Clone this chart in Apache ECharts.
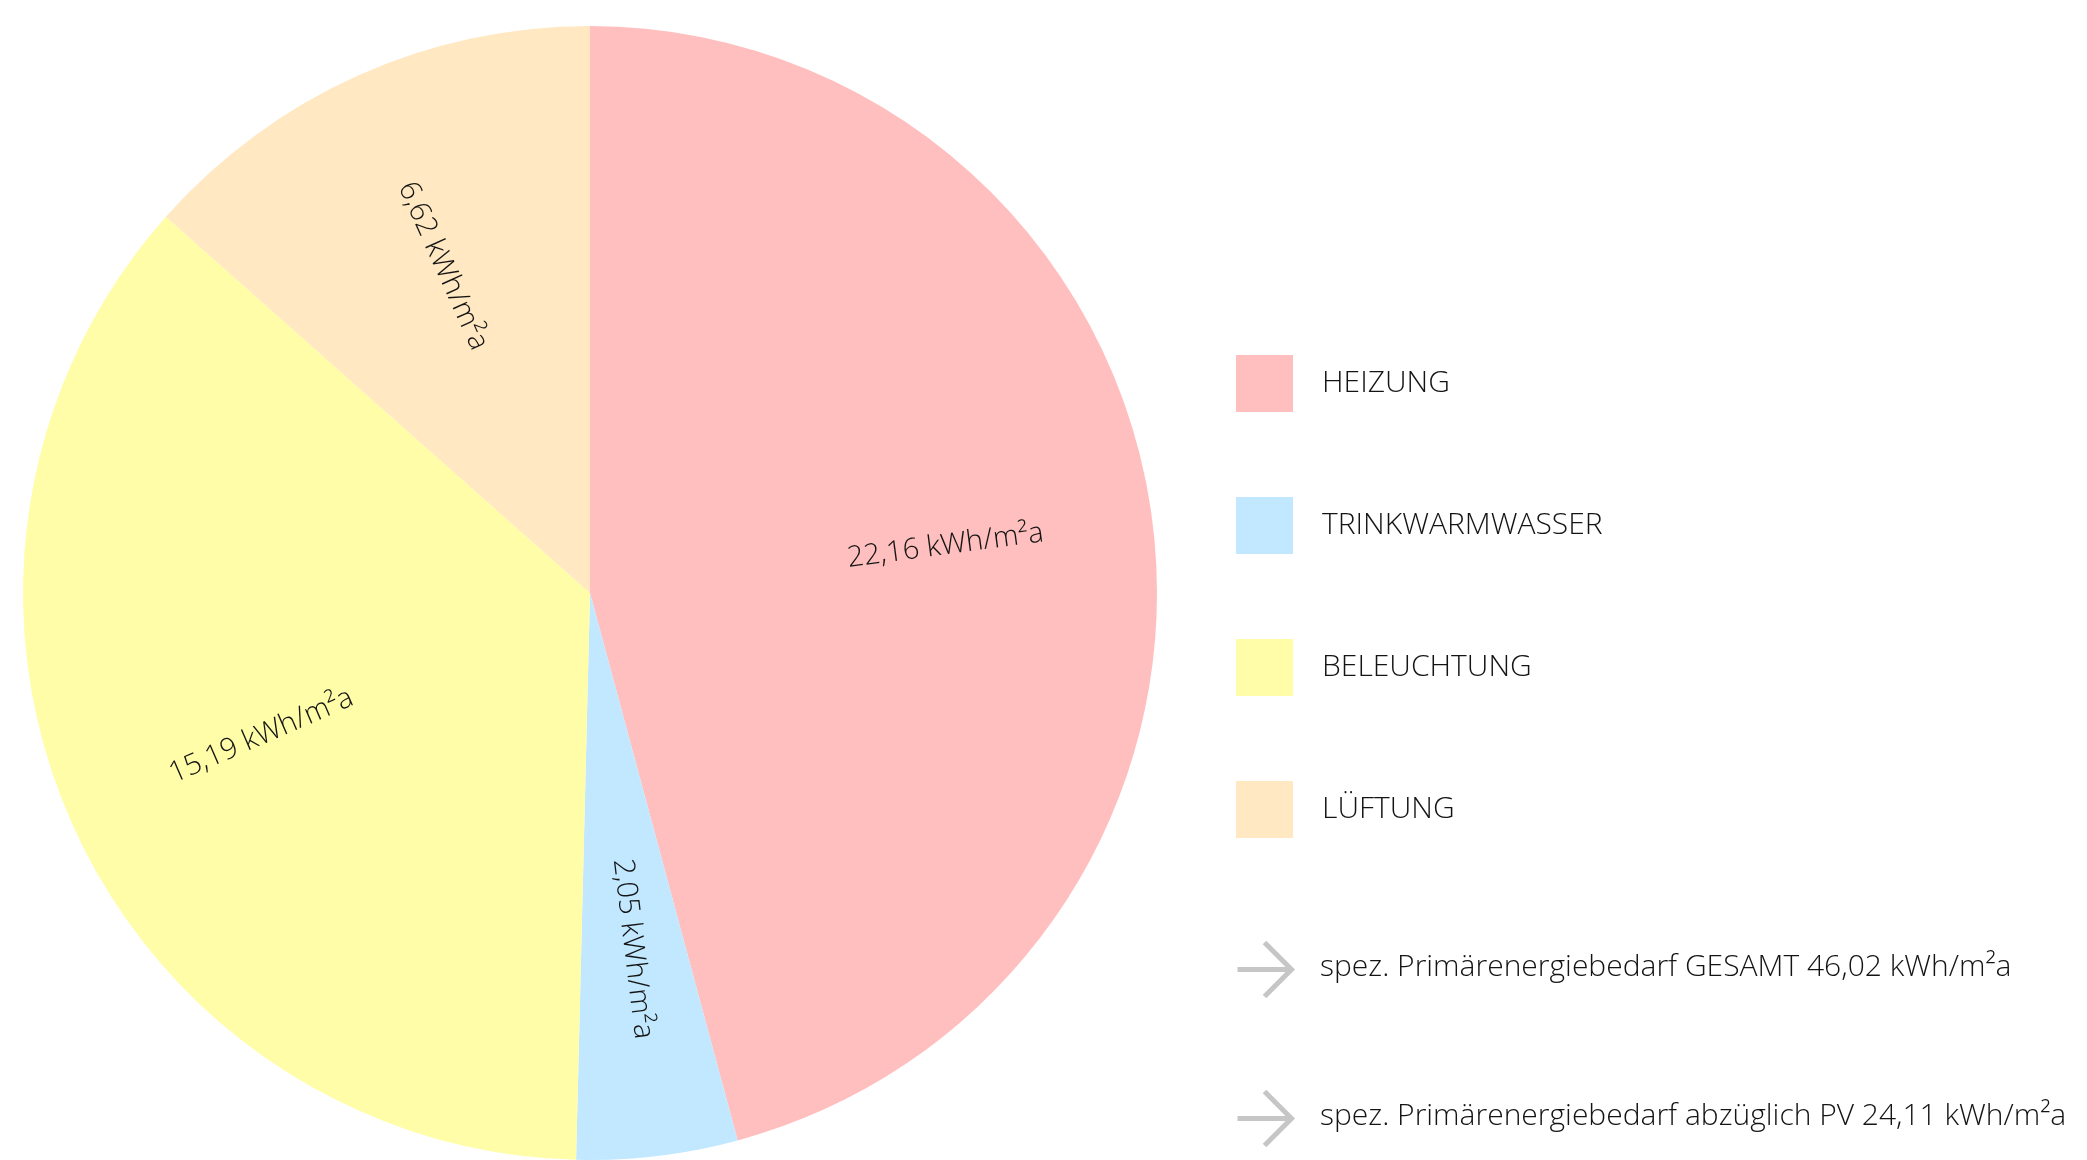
<!DOCTYPE html>
<html>
<head>
  <meta charset="utf-8">
  <title>Primärenergiebedarf</title>
  <script src="https://cdn.jsdelivr.net/npm/echarts@6/dist/echarts.min.js"></script>
  <style>
    html, body { margin: 0; padding: 0; background: #fff; }
    #chart { width: 2087px; height: 1160px; }
  </style>
</head>
<body>
  <div id="chart"></div>
  <script>
    // Kategorien
    const categories = ['HEIZUNG', 'TRINKWARMWASSER', 'BELEUCHTUNG', 'LÜFTUNG'];
    // Werte wie sie als Beschriftung im Bild stehen
    const labelValues = [22.16, 2.05, 15.19, 6.62];
    // Sektorgrößen wie sie im Bild gezeichnet sind (weichen leicht von den Beschriftungen ab)
    const sliceValues = [21.08, 2.11, 16.64, 6.19];
    const colors = ['#FFBFBF', '#C2E8FF', '#FFFDA8', '#FFE8C2'];
    // Zusatzzeilen unter der Legende
    const notes = [
      'spez. Primärenergiebedarf GESAMT 46,02 kWh/m²a',
      'spez. Primärenergiebedarf abzüglich PV 24,11 kWh/m²a'
    ];

    const FONT = '"Open Sans", "Noto Sans", sans-serif';
    const TEXT_COLOR = '#141414';
    const fmt = v => v.toFixed(2).replace('.', ',') + ' kWh/m²a';

    const pieData = categories.map((name, i) => ({
      name: name,
      value: sliceValues[i],
      itemStyle: { color: colors[i] }
    }));

    const chart = echarts.init(document.getElementById('chart'));

    // Pfeile + Text als graphic
    const noteTops = [940, 1089];
    const graphic = [];
    notes.forEach((t, i) => {
      graphic.push({
        type: 'group',
        left: 1235,
        top: noteTops[i],
        children: [
          { type: 'line', shape: { x1: 0, y1: 27, x2: 54, y2: 27 }, style: { stroke: '#c6c6c6', lineWidth: 5 } },
          { type: 'polyline', shape: { points: [[27, 0], [54, 27], [27, 54]] }, style: { stroke: '#c6c6c6', lineWidth: 5, fill: null } }
        ]
      });
      graphic.push({
        type: 'text',
        left: 1320,
        top: noteTops[i] + 12,
        style: { text: t, fill: TEXT_COLOR, font: '300 30px ' + FONT }
      });
    });

    const option = {
      animation: false,
      legend: {
        orient: 'vertical',
        left: 1231,
        top: 350,
        icon: 'rect',
        itemWidth: 57,
        itemHeight: 57,
        itemGap: 85,
        data: categories,
        textStyle: {
          fontSize: 30,
          fontWeight: 300,
          fontFamily: FONT,
          color: TEXT_COLOR,
          padding: [9, 0, 0, 24]
        },
        selectedMode: false
      },
      graphic: graphic,
      series: [
        {
          type: 'pie',
          center: [590, 593],
          radius: [0, 567],
          startAngle: 90,
          clockwise: true,
          label: { show: false },
          labelLine: { show: false },
          emphasis: { disabled: true },
          itemStyle: { borderWidth: 0 },
          data: pieData
        },
        {
          // unsichtbare Ebene nur für die Beschriftungen (weiter außen als Mitte)
          type: 'pie',
          silent: true,
          center: [590, 593],
          radius: [144, 567],
          startAngle: 90,
          clockwise: true,
          itemStyle: { color: 'rgba(0,0,0,0)', borderWidth: 0 },
          label: {
            show: true,
            position: 'inside',
            rotate: 'radial',
            color: TEXT_COLOR,
            fontSize: 29,
            fontWeight: 300,
            fontFamily: FONT,
            formatter: p => fmt(labelValues[p.dataIndex])
          },
          labelLine: { show: false },
          emphasis: { disabled: true },
          data: categories.map((name, i) => ({ name: name, value: sliceValues[i] }))
        }
      ]
    };
    chart.setOption(option);
  </script>
</body>
</html>
